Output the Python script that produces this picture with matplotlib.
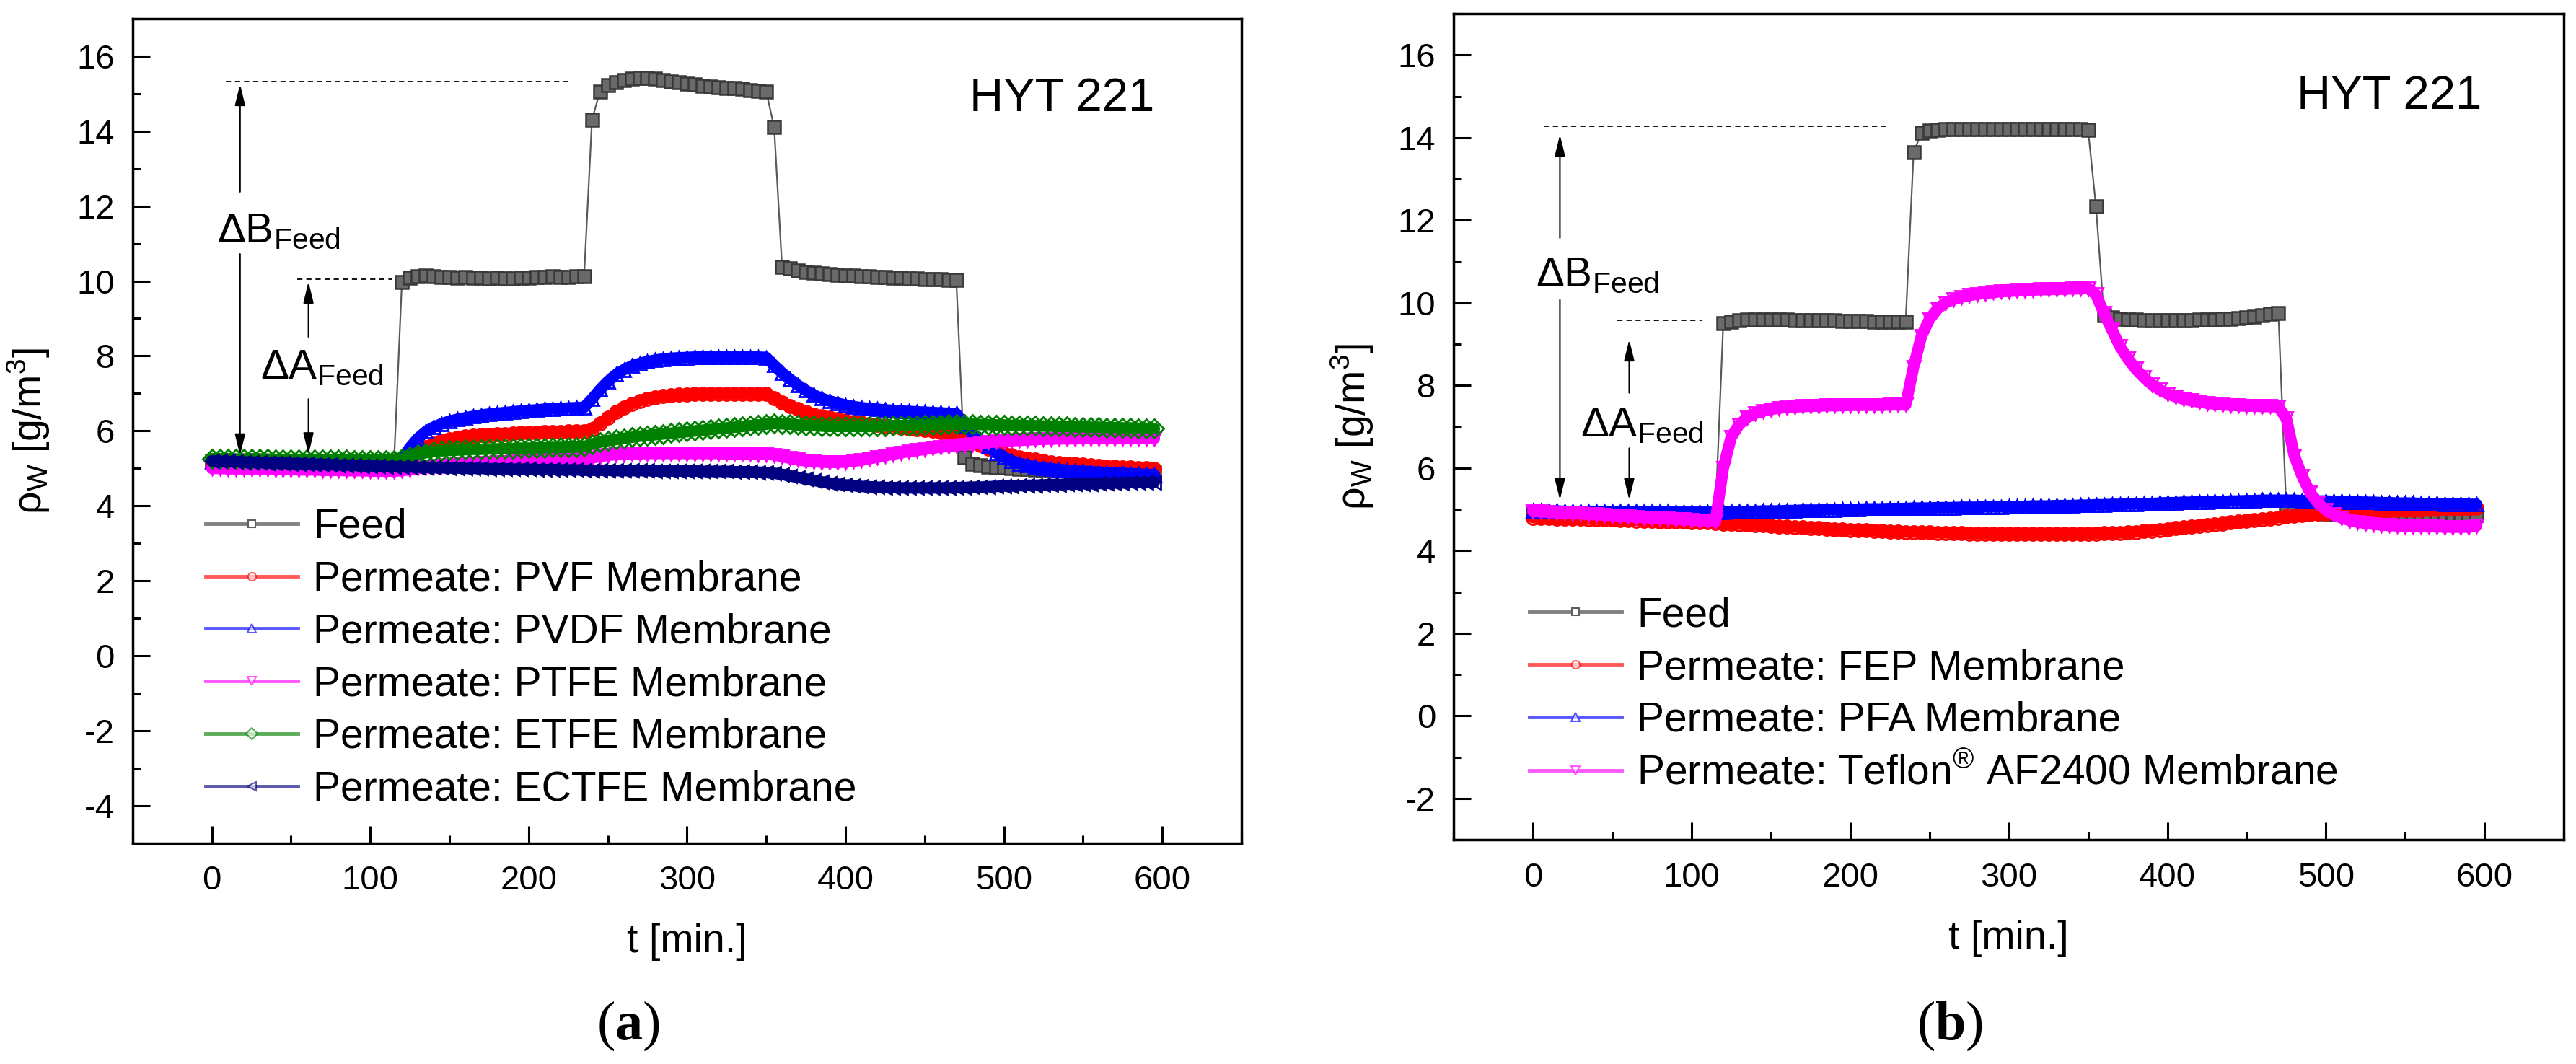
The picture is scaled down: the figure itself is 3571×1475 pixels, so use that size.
import numpy as np
import matplotlib.pyplot as plt
from matplotlib.ticker import MultipleLocator
from matplotlib.lines import Line2D

plt.rcParams['font.family'] = ['Liberation Sans', 'DejaVu Sans']
plt.rcParams['mathtext.fontset'] = 'custom'
plt.rcParams['mathtext.rm'] = 'Liberation Sans'
plt.rcParams['mathtext.bf'] = 'Liberation Serif:bold'
plt.rcParams['axes.unicode_minus'] = False

# sampling time [min], one reading every 5 min
t = np.arange(0, 600, 5)

# ---- panel (a) ----
feed_a = [5.20, 5.21, 5.20, 5.19, 5.20, 5.21, 5.20, 5.19, 5.19, 5.20, 5.18, 5.19, 5.18, 5.18, 5.17, 5.18, 5.17, 5.16, 5.17, 5.16, 5.16, 5.15, 5.16, 5.15,
          9.98, 10.08, 10.12, 10.14, 10.12, 10.11, 10.10, 10.09, 10.10, 10.08, 10.09, 10.07, 10.08, 10.06, 10.07, 10.08, 10.09, 10.10, 10.11, 10.12, 10.10, 10.11, 10.12, 10.12,
          14.30,
          15.05, 15.22, 15.30, 15.36, 15.40, 15.42, 15.41, 15.39, 15.36, 15.33, 15.30, 15.27, 15.24, 15.20, 15.18, 15.16, 15.15, 15.14, 15.12, 15.10, 15.08, 15.06,
          14.10,
          10.38, 10.33, 10.28, 10.25, 10.22, 10.20, 10.18, 10.16, 10.15, 10.14, 10.13, 10.12, 10.11, 10.10, 10.09, 10.08, 10.07, 10.06, 10.05, 10.04, 10.04, 10.03, 10.02,
          5.30,
          5.12, 5.08, 5.05, 5.03, 5.02, 5.00, 4.99, 4.98, 4.97, 4.97, 4.96, 4.95, 4.95, 4.94, 4.94, 4.93, 4.93, 4.92, 4.92, 4.91, 4.91, 4.90, 4.90, 4.90]

pvf = [5.12, 5.12, 5.11, 5.11, 5.10, 5.10, 5.10, 5.09, 5.09, 5.09, 5.08, 5.08, 5.08, 5.07, 5.07, 5.07, 5.06, 5.06, 5.06, 5.05, 5.05, 5.05, 5.05, 5.05,
       5.15, 5.30, 5.45, 5.57, 5.66, 5.73, 5.78, 5.82, 5.85, 5.87, 5.89, 5.90, 5.91, 5.92, 5.93, 5.94, 5.95, 5.95, 5.96, 5.97, 5.97, 5.98, 5.98, 5.99,
       6.05, 6.20, 6.35, 6.50, 6.62, 6.72, 6.80, 6.86, 6.90, 6.93, 6.95, 6.96, 6.97, 6.98, 6.98, 6.99, 6.99, 6.99, 6.99, 6.99, 6.99, 6.98, 6.98,
       6.88, 6.76, 6.66, 6.58, 6.50, 6.44, 6.39, 6.35, 6.31, 6.27, 6.24, 6.21, 6.18, 6.16, 6.13, 6.11, 6.08, 6.06, 6.04, 6.02, 6.00, 5.97, 5.94, 5.90,
       5.82, 5.72, 5.62, 5.53, 5.46, 5.40, 5.35, 5.30, 5.26, 5.23, 5.20, 5.17, 5.15, 5.13, 5.12, 5.10, 5.08, 5.07, 5.05, 5.04, 5.03, 5.02, 5.01, 5.00, 4.99]

pvdf = [5.18, 5.18, 5.17, 5.17, 5.17, 5.16, 5.16, 5.16, 5.15, 5.15, 5.15, 5.14, 5.14, 5.14, 5.13, 5.13, 5.13, 5.12, 5.12, 5.12, 5.11, 5.11, 5.11, 5.10,
        5.25, 5.55, 5.80, 5.98, 6.10, 6.19, 6.26, 6.31, 6.35, 6.39, 6.42, 6.45, 6.47, 6.49, 6.51, 6.53, 6.55, 6.56, 6.58, 6.59, 6.60, 6.61, 6.62, 6.63,
        6.85, 7.10, 7.32, 7.50, 7.63, 7.73, 7.80, 7.85, 7.89, 7.92, 7.94, 7.95, 7.96, 7.97, 7.97, 7.97, 7.97, 7.97, 7.97, 7.97, 7.97, 7.97, 7.96,
        7.75, 7.55, 7.38, 7.22, 7.08, 6.96, 6.87, 6.80, 6.74, 6.69, 6.65, 6.62, 6.60, 6.58, 6.56, 6.55, 6.53, 6.52, 6.51, 6.50, 6.49, 6.48, 6.47, 6.46,
        6.15, 5.95, 5.75, 5.58, 5.42, 5.30, 5.20, 5.13, 5.08, 5.04, 5.01, 4.99, 4.97, 4.95, 4.93, 4.92, 4.91, 4.90, 4.89, 4.88, 4.87, 4.86, 4.85, 4.84, 4.83]

ptfe = [5.00, 5.00, 4.99, 4.99, 4.99, 4.98, 4.98, 4.98, 4.97, 4.97, 4.97, 4.96, 4.96, 4.96, 4.95, 4.95, 4.95, 4.94, 4.94, 4.94, 4.93, 4.93, 4.93, 4.93,
        4.94, 4.97, 5.00, 5.03, 5.05, 5.07, 5.09, 5.10, 5.12, 5.13, 5.14, 5.15, 5.16, 5.17, 5.18, 5.19, 5.20, 5.21, 5.21, 5.22, 5.23, 5.23, 5.24, 5.24,
        5.28, 5.32, 5.35, 5.37, 5.38, 5.39, 5.39, 5.40, 5.40, 5.40, 5.40, 5.40, 5.40, 5.40, 5.40, 5.40, 5.40, 5.39, 5.39, 5.39, 5.39, 5.38, 5.38,
        5.36, 5.32, 5.27, 5.23, 5.20, 5.18, 5.17, 5.16, 5.16, 5.17, 5.19, 5.22, 5.26, 5.30, 5.34, 5.38, 5.42, 5.45, 5.48, 5.51, 5.54, 5.57, 5.59, 5.61,
        5.63, 5.65, 5.67, 5.69, 5.71, 5.72, 5.74, 5.75, 5.76, 5.77, 5.78, 5.78, 5.79, 5.79, 5.79, 5.80, 5.80, 5.80, 5.80, 5.80, 5.80, 5.80, 5.80, 5.80, 5.80]

etfe = [5.26, 5.26, 5.26, 5.25, 5.25, 5.25, 5.25, 5.25, 5.24, 5.24, 5.24, 5.24, 5.24, 5.23, 5.23, 5.23, 5.23, 5.23, 5.22, 5.22, 5.22, 5.22, 5.22, 5.22,
        5.25, 5.32, 5.38, 5.42, 5.45, 5.47, 5.48, 5.49, 5.50, 5.51, 5.51, 5.52, 5.52, 5.53, 5.53, 5.54, 5.54, 5.55, 5.55, 5.56, 5.56, 5.57, 5.57, 5.58,
        5.65, 5.70, 5.74, 5.77, 5.80, 5.83, 5.86, 5.88, 5.90, 5.92, 5.94, 5.96, 5.98, 6.00, 6.02, 6.04, 6.06, 6.08, 6.10, 6.12, 6.14, 6.16, 6.18,
        6.20, 6.19, 6.18, 6.16, 6.15, 6.14, 6.13, 6.12, 6.12, 6.12, 6.12, 6.12, 6.12, 6.13, 6.13, 6.14, 6.14, 6.15, 6.15, 6.16, 6.17, 6.17, 6.18, 6.18,
        6.18, 6.18, 6.17, 6.17, 6.16, 6.16, 6.15, 6.15, 6.14, 6.14, 6.13, 6.13, 6.12, 6.12, 6.11, 6.11, 6.10, 6.10, 6.09, 6.09, 6.08, 6.08, 6.07, 6.07, 6.06]

ectfe = [5.20, 5.19, 5.19, 5.18, 5.17, 5.17, 5.16, 5.15, 5.15, 5.14, 5.13, 5.13, 5.12, 5.11, 5.11, 5.10, 5.09, 5.09, 5.08, 5.07, 5.07, 5.06, 5.05, 5.05,
         5.04, 5.04, 5.03, 5.03, 5.02, 5.02, 5.01, 5.01, 5.00, 5.00, 5.00, 4.99, 4.99, 4.99, 4.98, 4.98, 4.98, 4.97, 4.97, 4.97, 4.96, 4.96, 4.96, 4.95,
         4.95, 4.95, 4.95, 4.94, 4.94, 4.94, 4.94, 4.94, 4.93, 4.93, 4.93, 4.93, 4.93, 4.93, 4.92, 4.92, 4.92, 4.92, 4.91, 4.91, 4.91, 4.90, 4.89,
         4.87, 4.84, 4.80, 4.76, 4.72, 4.68, 4.64, 4.61, 4.58, 4.56, 4.54, 4.52, 4.51, 4.50, 4.49, 4.49, 4.48, 4.48, 4.48, 4.48, 4.48, 4.48, 4.48, 4.49,
         4.49, 4.50, 4.50, 4.51, 4.52, 4.53, 4.53, 4.54, 4.55, 4.55, 4.56, 4.57, 4.57, 4.58, 4.58, 4.59, 4.59, 4.60, 4.60, 4.61, 4.61, 4.62, 4.62, 4.62, 4.63]

# ---- panel (b) ----
feed_b = [4.92, 4.92, 4.91, 4.91, 4.91, 4.90, 4.90, 4.90, 4.90, 4.89, 4.89, 4.89, 4.89, 4.88, 4.88, 4.88, 4.88, 4.88, 4.87, 4.87, 4.87, 4.87, 4.87, 4.87,
          9.50, 9.55, 9.58, 9.59, 9.60, 9.60, 9.60, 9.59, 9.59, 9.58, 9.58, 9.58, 9.57, 9.57, 9.57, 9.56, 9.56, 9.56, 9.56, 9.55, 9.55, 9.55, 9.55, 9.55,
          13.65,
          14.12, 14.17, 14.19, 14.20, 14.21, 14.21, 14.21, 14.21, 14.21, 14.21, 14.20, 14.20, 14.20, 14.20, 14.20, 14.20, 14.20, 14.20, 14.20, 14.20, 14.20, 14.19,
          12.33,
          9.70, 9.65, 9.62, 9.60, 9.59, 9.58, 9.58, 9.58, 9.58, 9.58, 9.58, 9.58, 9.59, 9.59, 9.60, 9.61, 9.62, 9.63, 9.65, 9.67, 9.70, 9.73, 9.76,
          4.98, 4.95, 4.93, 4.92, 4.91, 4.90, 4.90, 4.89, 4.89, 4.89, 4.88, 4.88, 4.88, 4.88, 4.87, 4.87, 4.87, 4.87, 4.87, 4.86, 4.86, 4.86, 4.86, 4.86, 4.86]

fep = [4.80, 4.79, 4.79, 4.78, 4.78, 4.77, 4.77, 4.76, 4.76, 4.75, 4.75, 4.74, 4.74, 4.73, 4.72, 4.72, 4.71, 4.71, 4.70, 4.70, 4.69, 4.68, 4.68, 4.67,
       4.66, 4.65, 4.64, 4.63, 4.62, 4.61, 4.60, 4.59, 4.58, 4.57, 4.56, 4.55, 4.54, 4.53, 4.52, 4.51, 4.50, 4.49, 4.49, 4.48, 4.47, 4.46, 4.46, 4.45,
       4.45, 4.44, 4.44, 4.43, 4.43, 4.42, 4.42, 4.41, 4.41, 4.41, 4.40, 4.40, 4.40, 4.40, 4.40, 4.40, 4.40, 4.40, 4.40, 4.40, 4.40, 4.40, 4.41, 4.41,
       4.42, 4.42, 4.43, 4.44, 4.45, 4.47, 4.48, 4.50, 4.52, 4.54, 4.56, 4.58, 4.60, 4.62, 4.64, 4.66, 4.68, 4.70, 4.72, 4.74, 4.76, 4.78, 4.80, 4.82,
       4.84, 4.86, 4.87, 4.89, 4.90, 4.91, 4.92, 4.93, 4.94, 4.95, 4.96, 4.96, 4.97, 4.98, 4.98, 4.99, 4.99, 5.00, 5.00, 5.01, 5.01, 5.02, 5.02, 5.03]

pfa = [4.96, 4.96, 4.96, 4.96, 4.95, 4.95, 4.95, 4.95, 4.95, 4.95, 4.95, 4.94, 4.94, 4.94, 4.94, 4.94, 4.94, 4.94, 4.93, 4.93, 4.93, 4.93, 4.93, 4.93,
       4.93, 4.94, 4.94, 4.95, 4.95, 4.96, 4.96, 4.96, 4.97, 4.97, 4.98, 4.98, 4.98, 4.99, 4.99, 5.00, 5.00, 5.00, 5.01, 5.01, 5.01, 5.02, 5.02, 5.02,
       5.03, 5.03, 5.03, 5.04, 5.04, 5.04, 5.05, 5.05, 5.05, 5.06, 5.06, 5.06, 5.07, 5.07, 5.07, 5.08, 5.08, 5.08, 5.09, 5.09, 5.09, 5.10, 5.10, 5.11,
       5.11, 5.12, 5.12, 5.13, 5.13, 5.14, 5.14, 5.15, 5.16, 5.16, 5.17, 5.17, 5.18, 5.18, 5.19, 5.19, 5.20, 5.20, 5.21, 5.21, 5.22, 5.22, 5.22, 5.22,
       5.22, 5.21, 5.21, 5.20, 5.20, 5.19, 5.19, 5.18, 5.18, 5.17, 5.17, 5.16, 5.16, 5.15, 5.15, 5.15, 5.14, 5.14, 5.14, 5.13, 5.13, 5.13, 5.12, 5.12]

af2400 = [4.95, 4.94, 4.93, 4.92, 4.91, 4.90, 4.89, 4.88, 4.87, 4.86, 4.85, 4.84, 4.82, 4.81, 4.80, 4.79, 4.78, 4.77, 4.76, 4.75, 4.74, 4.73, 4.72, 4.70,
          6.00, 6.75, 7.05, 7.22, 7.32, 7.38, 7.42, 7.45, 7.47, 7.48, 7.49, 7.50, 7.50, 7.51, 7.51, 7.51, 7.52, 7.52, 7.52, 7.52, 7.52, 7.53, 7.53, 7.53,
          8.45, 9.20, 9.60, 9.85, 10.00, 10.08, 10.14, 10.18, 10.21, 10.23, 10.25, 10.27, 10.28, 10.29, 10.30, 10.31, 10.32, 10.32, 10.33, 10.33, 10.34, 10.34, 10.35,
          10.20, 9.75, 9.35, 8.95, 8.65, 8.40, 8.20, 8.03, 7.90, 7.80, 7.73, 7.67, 7.63, 7.60, 7.57, 7.55, 7.53, 7.52, 7.51, 7.50, 7.50, 7.49, 7.49, 7.48,
          7.20, 6.30, 5.80, 5.40, 5.15, 4.98, 4.87, 4.79, 4.73, 4.69, 4.66, 4.64, 4.62, 4.61, 4.60, 4.59, 4.59, 4.58, 4.58, 4.58, 4.57, 4.57, 4.57, 4.57, 4.60]

labels_a = ['Feed', 'Permeate: PVF Membrane', 'Permeate: PVDF Membrane',
            'Permeate: PTFE Membrane', 'Permeate: ETFE Membrane', 'Permeate: ECTFE Membrane']
labels_b = ['Feed', 'Permeate: FEP Membrane', 'Permeate: PFA Membrane',
            'Permeate: Teflon$^\\mathregular{®}$ AF2400 Membrane']

RED, BLUE, PINK, GREEN, NAVY = '#ff0000', '#0000ff', '#ff00ff', '#008000', '#000080'


def plot_feed(ax, y):
    ax.plot(t, y, color='#5a5a5a', lw=1.6, marker='s', ms=13, mfc='#6a6a6a',
            mec='#383838', mew=1.8, zorder=2)


def plot_perm(ax, y, color, marker):
    ax.plot(t, y, color=color, lw=11.5, solid_capstyle='round', solid_joinstyle='round',
            marker=marker, ms=13, mfc='none', mec=color, mew=2, zorder=3)


def legend_handles(items):
    handles = [Line2D([], [], color='#808080', lw=3.5, marker='s', ms=7, mfc='white',
                      mec='#606060', mew=1.5)]
    for color, marker in items:
        handles.append(Line2D([], [], color=color, lw=3.5, alpha=0.65, marker=marker,
                              ms=8, mfc='white', mec=color, mew=1.5))
    return handles


def style(ax, ymin, ymax):
    ax.set_xlim(-50, 650)
    ax.set_ylim(ymin, ymax)
    ax.xaxis.set_major_locator(MultipleLocator(100))
    ax.xaxis.set_minor_locator(MultipleLocator(50))
    ax.set_yticks(np.arange(ymin + 1, ymax, 2))
    ax.yaxis.set_minor_locator(MultipleLocator(1))
    ax.tick_params(which='both', direction='in', top=False, right=False,
                   labelsize=34, width=2.2)
    ax.tick_params(which='major', length=17)
    ax.tick_params(which='minor', length=8)
    ax.tick_params(axis='x', pad=22)
    ax.tick_params(axis='y', pad=18)
    for s in ax.spines.values():
        s.set_linewidth(2.5)
    ax.set_xlabel('t [min.]', fontsize=40)
    ax.set_ylabel('ρ$_\\mathregular{W}$ [g/m$^\\mathregular{3}$]', fontsize=40)
    ax.xaxis.set_label_coords(0.5, -0.097)


def arrow(ax, x, y0, y1):
    ax.annotate('', xy=(x, y1), xytext=(x, y0),
                arrowprops=dict(arrowstyle='-|>,head_length=0.9,head_width=0.22',
                                color='black', lw=1.5, mutation_scale=20,
                                shrinkA=0, shrinkB=0))


def dashed(ax, x0, x1, y):
    ax.plot([x0, x1], [y, y], color='black', lw=1.3, ls=(0, (4, 3)), zorder=1)


fig = plt.figure(figsize=(35.71, 14.75), dpi=100)
ax1 = fig.add_axes([0.0515, 0.2075, 0.4304, 0.775])
ax2 = fig.add_axes([0.5643, 0.2108, 0.4310, 0.7763])

leg_kw = dict(loc='upper left', frameon=False, fontsize=41, handlelength=2.25,
              handletextpad=0.37, labelspacing=0.33, borderpad=0, borderaxespad=0)

# panel (a)
plot_feed(ax1, feed_a)
series_a = [(pvf, RED, 'o'), (pvdf, BLUE, '^'), (ptfe, PINK, 'v'),
            (etfe, GREEN, 'D'), (ectfe, NAVY, '<')]
for y, c, m in series_a:
    plot_perm(ax1, y, c, m)
style(ax1, -5, 17)
ax1.yaxis.set_label_coords(-0.073, 0.5)

dashed(ax1, 9, 225, 15.33)
dashed(ax1, 54, 114, 10.05)
arrow(ax1, 17.8, 12.38, 15.25)
arrow(ax1, 17.8, 10.72, 5.35)
arrow(ax1, 61, 8.51, 9.98)
arrow(ax1, 61, 6.85, 5.38)
ax1.text(3.4, 11.04, 'ΔB$_\\mathregular{Feed}$', fontsize=42, va='baseline')
ax1.text(30.8, 7.41, 'ΔA$_\\mathregular{Feed}$', fontsize=42, va='baseline')
ax1.text(595, 14.54, 'HYT 221', fontsize=47, ha='right', va='baseline')

ax1.legend(legend_handles([(c, m) for _, c, m in series_a]), labels_a,
           bbox_to_anchor=(0.0657, 0.407), **leg_kw)

# panel (b)
plot_feed(ax2, feed_b)
series_b = [(fep, RED, 'o'), (pfa, BLUE, '^'), (af2400, PINK, 'v')]
for y, c, m in series_b:
    plot_perm(ax2, y, c, m)
style(ax2, -3, 17)
ax2.yaxis.set_label_coords(-0.070, 0.5)

dashed(ax2, 7, 225, 14.28)
dashed(ax2, 53, 107, 9.58)
arrow(ax2, 17, 11.57, 14.07)
arrow(ax2, 17, 10.07, 5.23)
arrow(ax2, 60.7, 7.82, 9.11)
arrow(ax2, 60.7, 6.48, 5.23)
ax2.text(1.6, 10.4, 'ΔB$_\\mathregular{Feed}$', fontsize=42, va='baseline')
ax2.text(29.9, 6.78, 'ΔA$_\\mathregular{Feed}$', fontsize=42, va='baseline')
ax2.text(598, 14.69, 'HYT 221', fontsize=47, ha='right', va='baseline')

ax2.legend(legend_handles([(c, m) for _, c, m in series_b]), labels_b,
           bbox_to_anchor=(0.068, 0.295), **leg_kw)

fig.text(0.244, 0.036, '($\\mathbf{a}$)', fontsize=55, family='Liberation Serif',
         ha='center', va='center')
fig.text(0.757, 0.036, '($\\mathbf{b}$)', fontsize=55, family='Liberation Serif',
         ha='center', va='center')

fig.savefig('out.png', dpi=100, facecolor='white')
